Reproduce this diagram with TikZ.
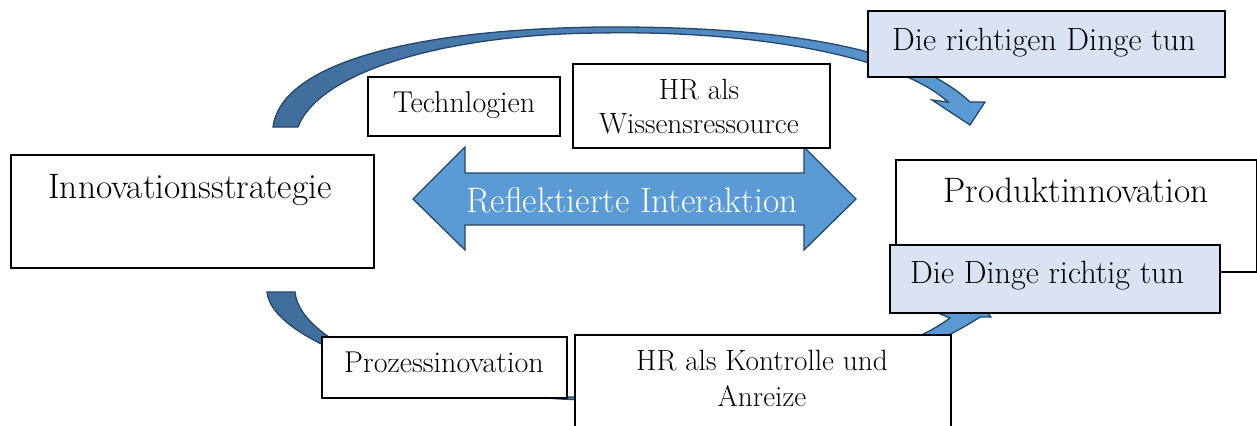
\documentclass[tikz,border=0pt]{standalone}
\definecolor{boxblue}{HTML}{DAE3F3}
\definecolor{arrfill}{HTML}{5B9BD5}
\definecolor{arrdark}{HTML}{3F6D9C}
\definecolor{arrline}{HTML}{24466B}
\begin{document}
\begin{tikzpicture}[x=1bp,y=-1bp,
  box/.style={draw=black, line width=1.5bp, fill=white, inner sep=0pt, anchor=north west},
  bluebox/.style={box, fill=boxblue},
  txt/.style={inner sep=0pt, anchor=base},
  txtL/.style={txt, font=\fontsize{35.5}{40}\selectfont},
  txtM/.style={txt, font=\fontsize{32.3}{38}\selectfont},
  txtS/.style={txt, font=\fontsize{30.2}{36}\selectfont},
  txtXS/.style={txt, font=\fontsize{29.4}{35}\selectfont},
  wtxt/.style={txtL, text=white},
  arr/.style={draw=arrline, line width=1.3bp, line join=miter},
  curved/.style={arr, left color=arrdark, right color=arrfill}]
\useasboundingbox (0,0) rectangle (1257,425);
\clip (0,0) rectangle (1257,425);

% top curved arrow (Innovationsstrategie -> Die richtigen Dinge tun)
\path[curved] (273,127) .. controls (280,70) and (390,30) .. (600,27)
  .. controls (770,26) and (910,45) .. (970,102)
  -- (985,102) -- (970,125) -- (932,100) -- (948,102)
  .. controls (900,58) and (760,30) .. (600,33)
  .. controls (450,34) and (320,70) .. (298,127) -- cycle;

% bottom curved arrow (Innovationsstrategie -> Die Dinge richtig tun)
\path[curved] (267,292) .. controls (272,345) and (440,398) .. (590,400)
  .. controls (750,402) and (900,370) .. (980,317)
  -- (991,317) -- (966,286) -- (938,313) -- (950,318)
  .. controls (890,362) and (740,397) .. (580,397)
  .. controls (430,397) and (300,345) .. (295,292) -- cycle;

% double arrow
\path[arr, fill=arrfill] (413,199) -- (465,147) -- (465,173) -- (804,173) -- (804,147)
  -- (856,199) -- (804,250) -- (804,225) -- (465,225) -- (465,250) -- cycle;
\node[wtxt] (refl) at (632,212) {Reflektierte Interaktion};

% boxes
\node[box, minimum width=363bp, minimum height=113bp] (strat) at (10,154) {};
\node[txtL] (stratT) at (190,198) {Innovationsstrategie};

\node[box, minimum width=192bp, minimum height=59bp] (tech) at (367,76) {};
\node[txtS] (techT) at (464,112) {Technlogien};

\node[box, minimum width=257bp, minimum height=84bp] (wiss) at (572,63) {};
\node[txtXS] (wissT1) at (699,99) {HR als};
\node[txtXS] (wissT2) at (699,133) {Wissensressource};

\node[bluebox, minimum width=357bp, minimum height=66bp] (richtig) at (867,10) {};
\node[txtM, anchor=base west] (richtigT) at (892,50) {Die richtigen Dinge tun};

\node[box, minimum width=361bp, minimum height=112bp] (prod) at (895,159) {};
\node[txtL] (prodT) at (1076,202) {Produktinnovation};

\node[bluebox, minimum width=330bp, minimum height=68bp] (dinge) at (889,244) {};
\node[txtM, anchor=base west] (dingeT) at (910,283) {Die Dinge richtig tun};

\node[box, minimum width=245bp, minimum height=61bp] (proz) at (321,336) {};
\node[txtS] (prozT) at (444,372) {Prozessinovation};

\node[box, minimum width=376bp, minimum height=120bp] (kontr) at (574,334) {};
\node[txtXS] (kontrT1) at (762,370) {HR als Kontrolle und};
\node[txtXS] (kontrT2) at (762,406) {Anreize};
\end{tikzpicture}
\end{document}
